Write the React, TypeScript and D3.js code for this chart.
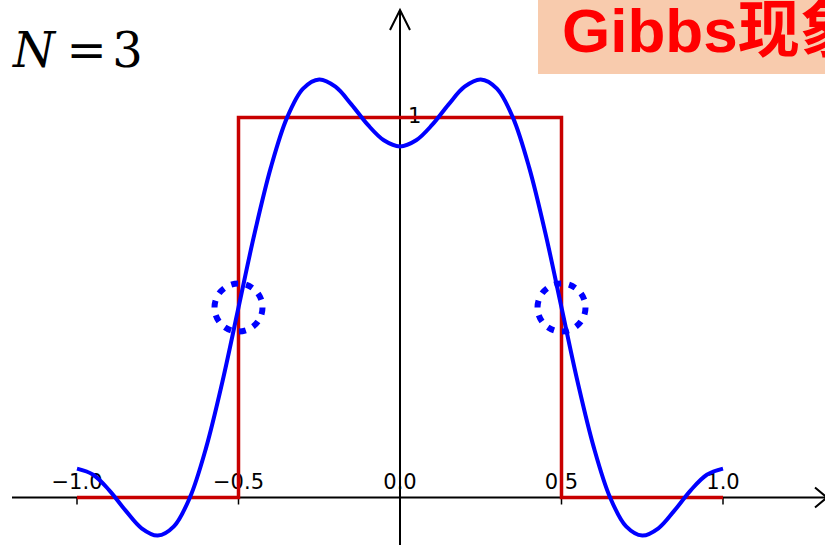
import React from "react";
import * as d3 from "d3";

const xs = [-1, -0.95, -0.9, -0.85, -0.8, -0.75, -0.7, -0.65, -0.6, -0.55, -0.5, -0.45, -0.4, -0.35, -0.3, -0.25, -0.2, -0.15, -0.1, -0.05, 0,
  0.05, 0.1, 0.15, 0.2, 0.25, 0.3, 0.35, 0.4, 0.45, 0.5, 0.55, 0.6, 0.65, 0.7, 0.75, 0.8, 0.85, 0.9, 0.95, 1];
const partialSum = [0.076, 0.060, 0.019, -0.034, -0.081, -0.100, -0.076, 0.001, 0.132, 0.304, 0.5, 0.696, 0.868, 0.999, 1.076, 1.100, 1.081, 1.034, 0.981, 0.940, 0.924,
  0.940, 0.981, 1.034, 1.081, 1.100, 1.076, 0.999, 0.868, 0.696, 0.5, 0.304, 0.132, 0.001, -0.076, -0.100, -0.081, -0.034, 0.019, 0.060, 0.076];
const stepX = [-1, -0.5, -0.5, 0.5, 0.5, 1];
const stepY = [0, 0, 1, 1, 0, 0];
const xTicks = [-1, -0.5, 0, 0.5, 1];
const xTickLabels = ["\u22121.0", "\u22120.5", "0.0", "0.5", "1.0"];
const yTicks = [1];
const yTickLabels = ["1"];
const jumpPoints = [-0.5, 0.5];

export default function App() {
  const W = 825, H = 545;
  const x = d3.scaleLinear().domain([-1, 1]).range([77, 723]);
  const y = d3.scaleLinear().domain([0, 1]).range([497.5, 117.5]);
  const curve = d3.line<number>().x((_, i) => x(xs[i])).y((d) => y(d)).curve(d3.curveCatmullRom)(partialSum) || "";
  const step = d3.line<number>().x((_, i) => x(stepX[i])).y((d) => y(d))(stepY) || "";
  const x0 = x(0), y0 = y(0);
  const tickFont = "'DejaVu Sans', sans-serif";
  return (
    <svg width={W} height={H} style={{ position: "absolute", left: 0, top: 0, background: "#fff" }}>
      {/* axes */}
      <line x1={12} x2={826} y1={y0} y2={y0} stroke="#000" strokeWidth={2} />
      <polyline points={`${815},${y0 - 10} ${827},${y0} ${815},${y0 + 10}`} fill="none" stroke="#000" strokeWidth={2} />
      <line x1={x0} x2={x0} y1={10} y2={H} stroke="#000" strokeWidth={2} />
      <polyline points={`${x0 - 10},${30} ${x0},${10} ${x0 + 10},${30}`} fill="none" stroke="#000" strokeWidth={2} />
      {xTicks.map((t, i) => (
        <g key={i}>
          <line x1={x(t)} x2={x(t)} y1={y0} y2={y0 + 7} stroke="#000" strokeWidth={1.5} />
          <text x={x(t)} y={489} textAnchor="middle" fontFamily={tickFont} fontSize={21} fill="#000">{xTickLabels[i]}</text>
        </g>
      ))}
      {yTicks.map((t, i) => (
        <g key={i}>
          <line x1={x0 - 8} x2={x0} y1={y(t)} y2={y(t)} stroke="#000" strokeWidth={1.5} />
          <text x={408} y={y(t) + 5} fontFamily={tickFont} fontSize={21} fill="#000">{yTickLabels[i]}</text>
        </g>
      ))}
      {/* step function */}
      <path d={step} fill="none" stroke="#c80000" strokeWidth={3.5} />
      {/* partial sum */}
      <path d={curve} fill="none" stroke="#0000ff" strokeWidth={4} />
      {/* gibbs markers */}
      {jumpPoints.map((p, i) => (
        <circle key={i} cx={x(p)} cy={y(0.5)} r={24} fill="none" stroke="#0000ff" strokeWidth={6} strokeDasharray="7,8" />
      ))}
      {/* title */}
      <text x={13} y={67} fontFamily="'DejaVu Serif', serif" fontStyle="italic" fontSize={48} fill="#000">N</text>
      <text x={86.5} y={67} textAnchor="middle" fontFamily="'DejaVu Serif', serif" fontSize={48} fill="#000">=</text>
      <text x={127.5} y={67} textAnchor="middle" fontFamily="'DejaVu Serif', serif" fontSize={48} fill="#000">3</text>
      {/* annotation */}
      <rect x={538} y={0} width={300} height={74} fill="#f8cbad" />
      <text x={562} y={52} fontFamily="'Liberation Sans', 'Noto Sans CJK SC', sans-serif" fontWeight="bold" fontSize={62} fill="#ff0000">Gibbs现象</text>
    </svg>
  );
}
